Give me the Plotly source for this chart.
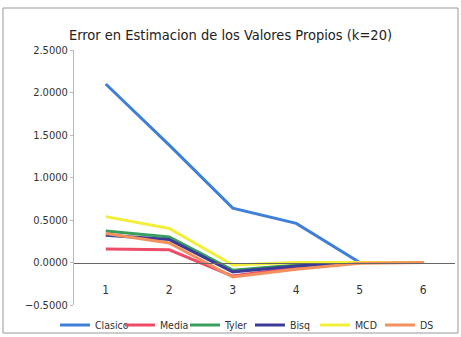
import plotly.graph_objects as go

categories = [1, 2, 3, 4, 5, 6]
series_names = ["Clasico", "Media", "Tyler", "Bisq", "MCD", "DS"]
clasico = [2.10, 1.38, 0.64, 0.46, 0.00, 0.00]
media = [0.16, 0.15, -0.16, -0.06, 0.00, 0.00]
tyler = [0.37, 0.30, -0.09, -0.03, 0.00, 0.00]
bisq = [0.32, 0.27, -0.11, -0.04, 0.00, 0.00]
mcd = [0.54, 0.40, -0.03, 0.00, 0.00, 0.00]
ds = [0.34, 0.23, -0.17, -0.08, -0.01, 0.00]
y_ticks = [-0.5, 0.0, 0.5, 1.0, 1.5, 2.0, 2.5]

values = [clasico, media, tyler, bisq, mcd, ds]
colors = ["#3f7fd8", "#ee4d6a", "#3a9e5e", "#3b3c98", "#f2ef3a", "#f2915e"]

W, H = 461, 337
ml, mr, mt, mb = 74, 6, 50, 32
fnt = "DejaVu Sans Condensed, Liberation Sans Narrow, sans-serif"

fig = go.Figure()
for name, vals, col in zip(series_names, values, colors):
    fig.add_trace(go.Scatter(x=categories, y=vals, name=name, mode="lines",
                             line=dict(color=col, width=3)))

ymin, ymax = -0.5, 2.5
zero_pos = (0 - ymin) / (ymax - ymin)

fig.update_layout(
    width=W, height=H,
    margin=dict(l=ml, r=mr, t=mt, b=mb, autoexpand=False),
    paper_bgcolor="white", plot_bgcolor="white",
    font=dict(family=fnt, size=11, color="#333"),
    title=dict(text="Error en Estimacion de los Valores Propios (k=20)",
               x=0.5, xanchor="center", y=0.895, yanchor="middle",
               font=dict(family=fnt, size=14.5, color="#222")),
    xaxis=dict(range=[0.5, 6.5], tickvals=categories, ticktext=[str(c) for c in categories],
               showgrid=False, zeroline=False, showline=True, linecolor="#666", linewidth=1,
               anchor="free", position=zero_pos, ticks="", ticklabelstandoff=16,
               tickfont=dict(size=12, color="#333")),
    yaxis=dict(range=[ymin, ymax], tickvals=y_ticks, tickformat=".4f",
               showgrid=False, zeroline=False, showline=True, linecolor="#bbb", linewidth=1,
               ticks="outside", ticklen=3, tickcolor="#bbb",
               tickfont=dict(size=11, color="#333")),
    legend=dict(orientation="h", x=-0.05, xanchor="left", y=-0.078, yanchor="middle",
                font=dict(size=10.5, color="#333"), itemwidth=30, tracegroupgap=0,
                bgcolor="rgba(0,0,0,0)", entrywidthmode="pixels", entrywidth=20),
    showlegend=True,
)

pw = W - ml - mr
ph = H - mt - mb
def px(x):
    return (x - ml) / pw
def py(y):
    return (H - mb - y) / ph

fig.add_shape(type="rect", xref="paper", yref="paper",
              x0=px(3), x1=px(458), y0=py(333), y1=py(8),
              line=dict(color="#999", width=1), layer="above")

fig.write_html("out.html", config={"displayModeBar": False},
               post_script="document.body.style.margin='0';document.body.style.overflow='hidden';")
